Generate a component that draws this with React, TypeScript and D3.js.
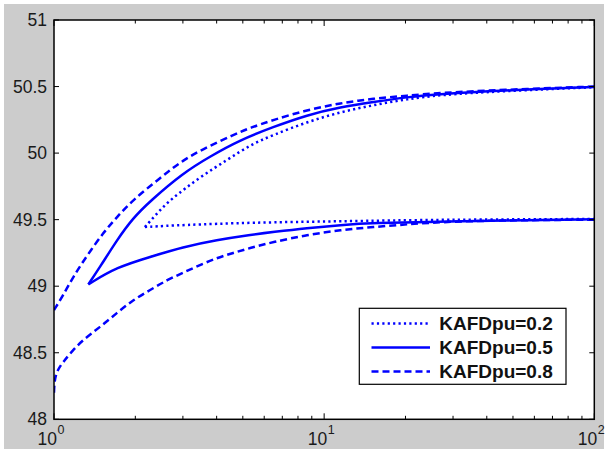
import React from "react";
import * as d3 from "d3";

type Pt = [number, number];

// KAFDpu = 0.2 (dotted)
const dottedUpper: Pt[] = [[2.17, 49.445], [2.47, 49.572], [2.69, 49.648], [3.47, 49.82], [4.37, 49.948], [5.32, 50.061], [6.47, 50.136], [8.64, 50.234], [11.5, 50.309], [15.2, 50.361], [20.3, 50.406], [26.8, 50.437], [44.8, 50.465], [100, 50.495]];
const dottedLower: Pt[] = [[2.17, 49.445], [3.0, 49.46], [5.32, 49.478], [11.5, 49.488], [26.8, 49.5], [100, 49.505]];
// KAFDpu = 0.5 (solid)
const solidUpper: Pt[] = [[1.34, 49.014], [1.48, 49.144], [1.71, 49.347], [1.96, 49.512], [2.27, 49.64], [3.0, 49.85], [3.78, 49.975], [4.88, 50.098], [6.47, 50.196], [8.64, 50.286], [11.5, 50.346], [15.2, 50.384], [20.3, 50.421], [26.8, 50.444], [44.8, 50.47], [100, 50.497]];
const solidLower: Pt[] = [[1.34, 49.014], [1.71, 49.144], [2.27, 49.22], [3.0, 49.294], [4.01, 49.347], [5.32, 49.385], [6.47, 49.407], [8.64, 49.437], [11.5, 49.46], [15.2, 49.475], [26.8, 49.485], [44.8, 49.493], [100, 49.503]];
// KAFDpu = 0.8 (dashed)
const dashedUpper: Pt[] = [[1.0, 48.82], [1.08, 48.93], [1.176, 49.069], [1.325, 49.23], [1.52, 49.4], [1.71, 49.52], [1.96, 49.648], [2.47, 49.813], [3.0, 49.948], [3.68, 50.045], [4.6, 50.136], [5.32, 50.19], [6.47, 50.249], [8.64, 50.324], [11.5, 50.376], [15.2, 50.41], [20.3, 50.432], [26.8, 50.452], [44.8, 50.475], [100, 50.5]];
const dashedLower: Pt[] = [[1.0, 48.2], [1.005, 48.3], [1.03, 48.37], [1.08, 48.43], [1.176, 48.52], [1.28, 48.596], [1.48, 48.693], [1.71, 48.799], [1.96, 48.896], [2.27, 48.971], [2.62, 49.047], [3.0, 49.1], [3.47, 49.16], [4.01, 49.212], [4.6, 49.25], [5.32, 49.287], [6.47, 49.332], [8.64, 49.385], [11.5, 49.422], [15.2, 49.445], [20.3, 49.465], [26.8, 49.482], [44.8, 49.495], [100, 49.5]];

const seriesNames = ["KAFDpu=0.2", "KAFDpu=0.5", "KAFDpu=0.8"];
const yTicks = [48, 48.5, 49, 49.5, 50, 50.5, 51];
const xMajor = [1, 10, 100];
const xExponents = ["0", "1", "2"];

export default function App() {
  const W = 608, H = 449;
  const L = 54, R = 594.3, T = 20, B = 419.3;
  const x = d3.scaleLog().domain([1, 100]).range([L, R]);
  const y = d3.scaleLinear().domain([48, 51]).range([B, T]);
  const line = d3.line<Pt>().x(d => x(d[0])).y(d => y(d[1])).curve(d3.curveBasis);

  const series = [
    { branches: [dottedUpper, dottedLower], dash: "2.2,3.2" },
    { branches: [solidUpper, solidLower], dash: "none" },
    { branches: [dashedUpper, dashedLower], dash: "7,4" },
  ];
  const minor: number[] = [];
  [1, 10].forEach(dec => { for (let k = 2; k <= 9; k++) minor.push(dec * k); });

  const font = "Liberation Sans, Arial, sans-serif";
  const legX = 359.3, legY = 308.3, legW = 206.7, legH = 76;
  const rowY = [323.5, 347.5, 371.5];

  return (
    <svg width={W} height={H} style={{ position: "fixed", left: 0, top: 0 }} fontFamily={font}>
      <rect x={0} y={0} width={W} height={H} fill="#fff" />
      <rect x={4} y={4} width={600} height={H - 4} fill="#cccccc" />
      <rect x={L} y={T} width={R - L} height={B - T} fill="#fff" />
      <defs>
        <clipPath id="plotclip"><rect x={L} y={T - 2} width={R - L} height={B - T + 4} /></clipPath>
      </defs>
      <g clipPath="url(#plotclip)">
        {series.map((s, i) => s.branches.map((b, j) => (
          <path key={`${i}-${j}`} d={line(b) || ""} fill="none" stroke="#0000ff" strokeWidth={2.5} strokeDasharray={s.dash} />
        )))}
      </g>
      <rect x={L} y={T} width={R - L} height={B - T} fill="none" stroke="#000" strokeWidth={1.5} />
      {yTicks.map(t => (
        <g key={t}>
          <line x1={L} x2={L + 5} y1={y(t)} y2={y(t)} stroke="#000" strokeWidth={1} />
          <line x1={R} x2={R - 5} y1={y(t)} y2={y(t)} stroke="#000" strokeWidth={1} />
          <text x={47} y={y(t)} textAnchor="end" dominantBaseline="central" fontSize={17.5} fill="#1a1a1a">{String(t)}</text>
        </g>
      ))}
      {xMajor.map((t, i) => (
        <g key={t}>
          <line x1={x(t)} x2={x(t)} y1={B} y2={B - 6} stroke="#000" strokeWidth={1} />
          <line x1={x(t)} x2={x(t)} y1={T} y2={T + 6} stroke="#000" strokeWidth={1} />
          <text x={x(t) + 3} y={445} textAnchor="end" fontSize={17.5} fill="#1a1a1a">10</text>
          <text x={x(t) + 3.5} y={434} textAnchor="start" fontSize={12.5} fill="#1a1a1a">{xExponents[i]}</text>
        </g>
      ))}
      {minor.map(t => (
        <g key={t}>
          <line x1={x(t)} x2={x(t)} y1={B} y2={B - 3.5} stroke="#000" strokeWidth={1} />
          <line x1={x(t)} x2={x(t)} y1={T} y2={T + 3.5} stroke="#000" strokeWidth={1} />
        </g>
      ))}
      <rect x={legX} y={legY} width={legW} height={legH} fill="#fff" stroke="#000" strokeWidth={1.2} />
      {seriesNames.map((n, i) => (
        <g key={n}>
          <line x1={371.5} x2={430} y1={rowY[i]} y2={rowY[i]} stroke="#0000ff" strokeWidth={2.5} strokeDasharray={series[i].dash} />
          <text x={439.3} y={rowY[i]} dominantBaseline="central" fontSize={19} fontWeight="bold" fill="#111">{n}</text>
        </g>
      ))}
    </svg>
  );
}
